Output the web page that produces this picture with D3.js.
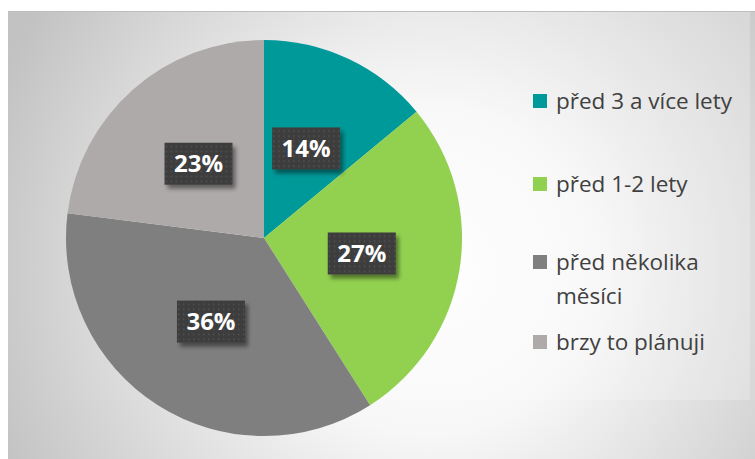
<!DOCTYPE html>
<html>
<head>
<meta charset="utf-8">
<script src="https://cdn.jsdelivr.net/npm/d3@7"></script>
<style>
  html, body { margin: 0; padding: 0; background: #ffffff; }
  svg { display: block; }
</style>
</head>
<body>
<svg id="chart" width="755" height="459"></svg>
<script>
// Kdy začali / plánují začít
const categories = ["před 3 a více lety", "před 1-2 lety", "před několika měsíci", "brzy to plánuji"];
const legendLines = [["před 3 a více lety"], ["před 1-2 lety"], ["před několika", "měsíci"], ["brzy to plánuji"]];
const values = [14, 27, 36, 23];
const colors = ["#009999", "#92d050", "#7f7f7f", "#aeaaaa"];

const svg = d3.select("#chart");
const defs = svg.append("defs");

// chart area background: soft radial gradient
const bg = defs.append("radialGradient").attr("id", "bg")
  .attr("gradientUnits", "userSpaceOnUse")
  .attr("cx", 430).attr("cy", 270).attr("r", 470);
bg.append("stop").attr("offset", "0").attr("stop-color", "#ffffff");
bg.append("stop").attr("offset", "0.35").attr("stop-color", "#f7f7f7");
bg.append("stop").attr("offset", "1").attr("stop-color", "#c2c2c2");

const sheen = defs.append("linearGradient").attr("id", "sheen")
  .attr("x1", "0").attr("y1", "0").attr("x2", "1").attr("y2", "0");
sheen.append("stop").attr("offset", "0").attr("stop-color", "#ffffff").attr("stop-opacity", 0);
sheen.append("stop").attr("offset", "1").attr("stop-color", "#ffffff").attr("stop-opacity", 0.22);

// dotted dark fill of the data labels
const pat = defs.append("pattern").attr("id", "dots")
  .attr("patternUnits", "userSpaceOnUse").attr("width", 5).attr("height", 5);
pat.append("rect").attr("width", 5).attr("height", 5).attr("fill", "#3d3d3d");
pat.append("rect").attr("x", 2).attr("y", 2).attr("width", 1.4).attr("height", 1.4).attr("fill", "#575757");

const shadow = defs.append("filter").attr("id", "shadow")
  .attr("x", "-20%").attr("y", "-20%").attr("width", "150%").attr("height", "160%");
shadow.append("feGaussianBlur").attr("in", "SourceAlpha").attr("stdDeviation", 2.2).attr("result", "b");
shadow.append("feOffset").attr("in", "b").attr("dx", 3).attr("dy", 4).attr("result", "o");
shadow.append("feComponentTransfer").attr("in", "o").attr("result", "s")
  .append("feFuncA").attr("type", "linear").attr("slope", 0.45);
const merge = shadow.append("feMerge");
merge.append("feMergeNode").attr("in", "s");
merge.append("feMergeNode").attr("in", "SourceGraphic");

// chart frame
svg.append("rect").attr("x", 8).attr("y", 11).attr("width", 747).attr("height", 448)
  .attr("fill", "url(#bg)");
svg.append("rect").attr("x", 8).attr("y", 11).attr("width", 742).attr("height", 389)
  .attr("fill", "url(#sheen)");
svg.append("line").attr("x1", 8).attr("x2", 755).attr("y1", 11.5).attr("y2", 11.5)
  .attr("stroke", "#bdbdbd").attr("stroke-width", 1);

// pie
const cx = 264, cy = 238, r = 198;
const pie = d3.pie().sort(null).value(d => d);
const arc = d3.arc().innerRadius(0).outerRadius(r);
const arcs = pie(values);

const g = svg.append("g").attr("transform", `translate(${cx},${cy})`);
g.selectAll("path.slice").data(arcs).join("path")
  .attr("class", "slice")
  .attr("d", arc)
  .attr("fill", (d, i) => colors[i])
  .attr("stroke", "none");

// data labels
const total = d3.sum(values);
const lbl = g.selectAll("g.lbl").data(arcs).join("g")
  .attr("class", "lbl")
  .attr("transform", d => {
    const [x, y] = arc.centroid(d);
    return `translate(${x},${y})`;
  });
const bw = 68, bh = 42;
lbl.append("rect")
  .attr("x", -bw / 2).attr("y", -bh / 2).attr("width", bw).attr("height", bh)
  .attr("fill", "url(#dots)")
  .attr("filter", "url(#shadow)");
lbl.append("text")
  .attr("text-anchor", "middle").attr("dy", "0.36em")
  .attr("font-family", "'Open Sans', Lato, sans-serif")
  .attr("font-weight", "bold").attr("font-size", 24)
  .attr("fill", "#ffffff")
  .text(d => Math.round(d.data / total * 100) + "%");

// legend
const legendY = [101, 184, 262, 342];
const lg = svg.append("g").selectAll("g").data(categories).join("g")
  .attr("transform", (d, i) => `translate(533,${legendY[i]})`);
lg.append("rect").attr("x", 0).attr("y", -7).attr("width", 14).attr("height", 14)
  .attr("fill", (d, i) => colors[i]);
lg.append("text")
  .attr("x", 23).attr("y", 0)
  .attr("font-family", "'Open Sans', Lato, sans-serif")
  .attr("font-size", 22.5).attr("fill", "#404040")
  .selectAll("tspan").data((d, i) => legendLines[i]).join("tspan")
  .attr("x", 23)
  .attr("dy", (d, j) => j === 0 ? "0.35em" : "1.5em")
  .text(d => d);
</script>
</body>
</html>
